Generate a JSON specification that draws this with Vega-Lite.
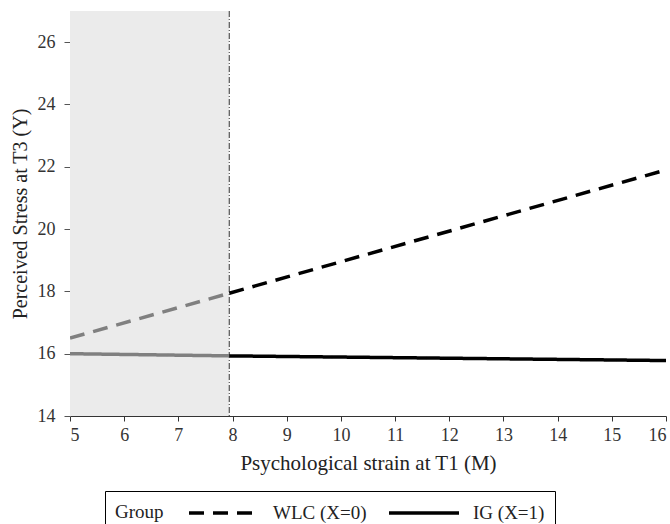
{
  "$schema": "https://vega.github.io/schema/vega-lite/v6.json",
  "autosize": "none",
  "width": 596,
  "height": 405,
  "padding": {"left": 70, "top": 11, "right": 4, "bottom": 108},
  "background": "white",
  "config": {
    "view": {"stroke": null},
    "font": "Liberation Serif",
    "axis": {"grid": false, "labelFont": "Liberation Serif", "titleFont": "Liberation Serif", "labelFontSize": 18, "titleFontSize": 20, "titleFontWeight": "normal", "labelColor": "#333", "titleColor": "#222", "tickSize": 5, "labelPadding": 4},
    "legend": {"labelFont": "Liberation Serif", "titleFont": "Liberation Serif"}
  },
  "layer": [
    {
      "data": {"values": [{"x0": 5, "x1": 7.94}]},
      "mark": {"type": "rect", "color": "#ebebeb"},
      "encoding": {
        "x": {"field": "x0", "type": "quantitative", "scale": {"domain": [5, 16], "nice": false}},
        "x2": {"field": "x1"}
      }
    },
    {
      "data": {"values": [{"xv": 7.94}]},
      "mark": {"type": "rule", "color": "#555", "strokeWidth": 1.2, "strokeDash": [6, 2, 1, 2]},
      "encoding": {"x": {"field": "xv", "type": "quantitative"}}
    },
    {
      "data": {"values": [
        {"m": 5, "y": 16.5, "group": "WLC (X=0)", "seg": "shaded"},
        {"m": 7.94, "y": 17.94, "group": "WLC (X=0)", "seg": "shaded"},
        {"m": 7.94, "y": 17.94, "group": "WLC (X=0)", "seg": "plain"},
        {"m": 16, "y": 21.9, "group": "WLC (X=0)", "seg": "plain"},
        {"m": 5, "y": 16.0, "group": "IG (X=1)", "seg": "shaded"},
        {"m": 7.94, "y": 15.93, "group": "IG (X=1)", "seg": "shaded"},
        {"m": 7.94, "y": 15.93, "group": "IG (X=1)", "seg": "plain"},
        {"m": 16, "y": 15.78, "group": "IG (X=1)", "seg": "plain"}
      ]},
      "mark": {"type": "line", "strokeWidth": 3.5, "clip": true},
      "encoding": {
        "x": {"field": "m", "type": "quantitative", "scale": {"domain": [5, 16], "nice": false},
              "axis": {"title": "Psychological strain at T1 (M)", "titleFontSize": 21, "values": [5,6,7,8,9,10,11,12,13,14,15,16], "domainColor": "#333", "tickColor": "#333", "labelPadding": 5, "titlePadding": 8}},
        "y": {"field": "y", "type": "quantitative", "scale": {"domain": [14, 27], "nice": false, "zero": false},
              "axis": {"title": "Perceived Stress at T3 (Y)", "titleFontSize": 20, "values": [14,16,18,20,22,24,26], "domainColor": "#777", "tickColor": "#555", "tickSize": 6, "labelPadding": 9, "titlePadding": 7}},
        "color": {"field": "seg", "type": "nominal", "scale": {"domain": ["shaded", "plain"], "range": ["#808080", "#000000"]}, "legend": null},
        "strokeDash": {"field": "group", "type": "nominal", "sort": ["WLC (X=0)", "IG (X=1)"],
          "scale": {"domain": ["WLC (X=0)", "IG (X=1)"], "range": [[15, 9], [1, 0]]},
          "legend": {"title": "Group", "orient": "none", "legendX": 35, "legendY": 480, "direction": "horizontal", "gridAlign": "all", "titleOrient": "left", "titleFontWeight": "normal", "titleFontSize": 19, "titleColor": "#222", "titlePadding": 23, "titleBaseline": "middle", "labelFontSize": 19, "labelColor": "#222", "labelOffset": 62, "columnPadding": 15, "symbolType": "M-1,0H6", "symbolStrokeColor": "#000", "symbolStrokeWidth": 3.5, "symbolSize": 400, "symbolDashOffset": 0, "strokeColor": "#000", "padding": 10}}
      }
    }
  ]
}
